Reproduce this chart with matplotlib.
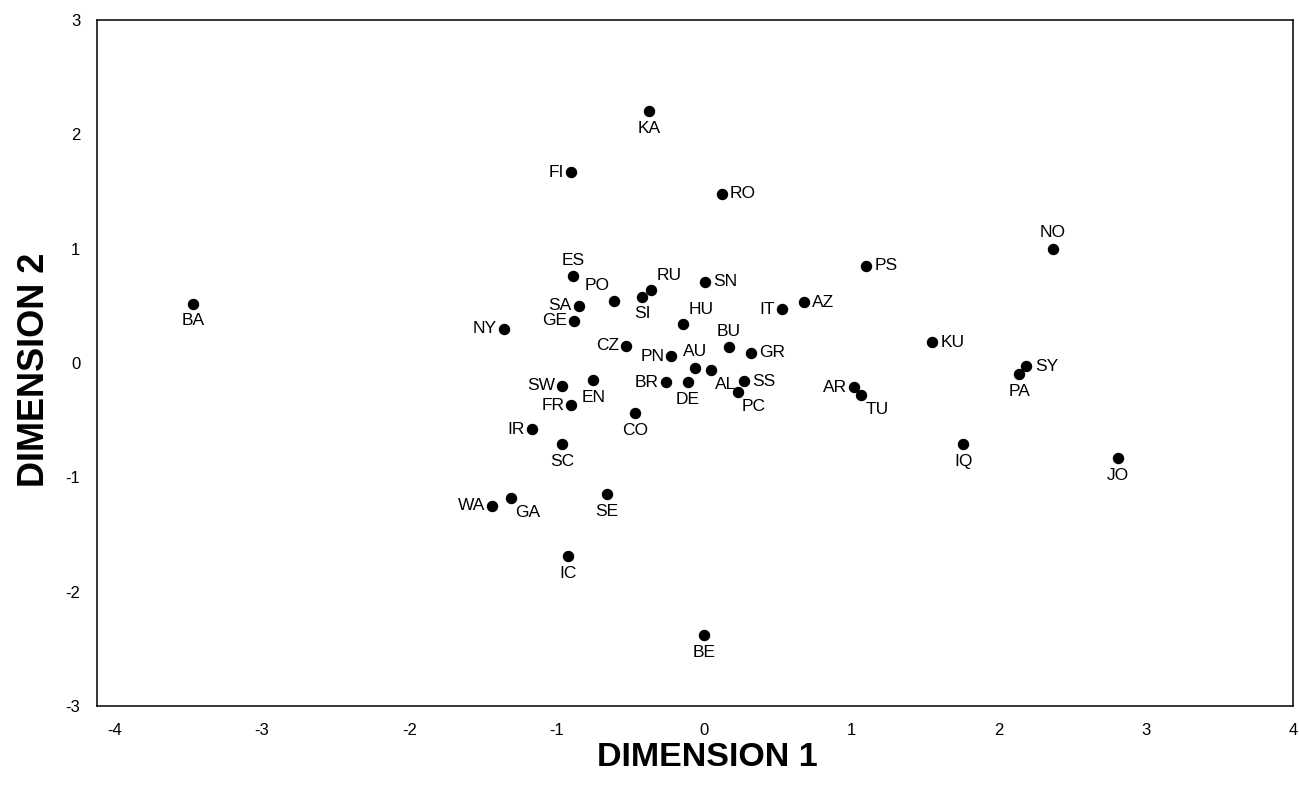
import matplotlib
matplotlib.use('Agg')
import matplotlib.pyplot as plt

plt.rcParams['font.family'] = ['Liberation Sans', 'DejaVu Sans']
plt.rcParams['axes.unicode_minus'] = False

# country codes and their coordinates on the two dimensions
codes = ['KA', 'FI', 'RO', 'NO', 'PS', 'BA', 'ES', 'RU', 'SI', 'PO',
         'SA', 'GE', 'NY', 'SN', 'HU', 'IT', 'AZ', 'CZ', 'PN', 'BU',
         'GR', 'AU', 'AL', 'SW', 'EN', 'BR', 'DE', 'SS', 'PC', 'FR',
         'CO', 'IR', 'SC', 'GA', 'WA', 'SE', 'IC', 'BE', 'KU', 'AR',
         'TU', 'PA', 'SY', 'IQ', 'JO']
dim1 = [-0.37, -0.90, 0.12, 2.37, 1.10, -3.47, -0.89, -0.36, -0.42, -0.61,
        -0.85, -0.88, -1.36, 0.01, -0.14, 0.53, 0.68, -0.53, -0.22, 0.17,
        0.32, -0.06, 0.05, -0.96, -0.75, -0.26, -0.11, 0.27, 0.23, -0.90,
        -0.47, -1.17, -0.96, -1.31, -1.44, -0.66, -0.92, 0.00, 1.55, 1.02,
        1.07, 2.14, 2.19, 1.76, 2.81]
dim2 = [2.20, 1.67, 1.48, 1.00, 0.85, 0.52, 0.76, 0.64, 0.58, 0.54,
        0.50, 0.37, 0.30, 0.71, 0.34, 0.47, 0.53, 0.15, 0.06, 0.14,
        0.09, -0.04, -0.06, -0.20, -0.15, -0.17, -0.17, -0.16, -0.25, -0.37,
        -0.44, -0.58, -0.71, -1.18, -1.25, -1.15, -1.69, -2.38, 0.18, -0.21,
        -0.28, -0.10, -0.03, -0.71, -0.83]

# where each label sits relative to its dot
place = {'KA': 'b', 'FI': 'l', 'RO': 'r', 'NO': 't', 'PS': 'r', 'BA': 'b',
         'ES': 't', 'RU': 'tr', 'SI': 'b', 'PO': 'tl', 'SA': 'l', 'GE': 'l',
         'NY': 'l', 'SN': 'r', 'HU': 'tr', 'IT': 'l', 'AZ': 'r', 'CZ': 'l',
         'PN': 'l', 'BU': 't', 'GR': 'r', 'AU': 't', 'AL': 'br', 'SW': 'l',
         'EN': 'b', 'BR': 'l', 'DE': 'b', 'SS': 'r', 'PC': 'br', 'FR': 'l',
         'CO': 'b', 'IR': 'l', 'SC': 'b', 'GA': 'br', 'WA': 'l', 'SE': 'b',
         'IC': 'b', 'BE': 'b', 'KU': 'r', 'AR': 'l', 'TU': 'br', 'PA': 'b',
         'SY': 'r', 'IQ': 'b', 'JO': 'b'}
offsets = {'r': ((6, 0), 'left', 'center'), 'l': ((-5, 0), 'right', 'center'),
           'b': ((0, -7), 'center', 'top'), 't': ((0, 6), 'center', 'bottom'),
           'tr': ((4, 5), 'left', 'bottom'), 'tl': ((-3, 6), 'right', 'bottom'),
           'br': ((3, -5), 'left', 'top')}

fig = plt.figure(figsize=(12.99, 7.95), dpi=100)
ax = fig.add_axes([0.0747, 0.112, 0.9207, 0.8628])
ax.scatter(dim1, dim2, s=52, color='black', zorder=3)

for c, x, y in zip(codes, dim1, dim2):
    off, ha, va = offsets[place[c]]
    ax.annotate(c, (x, y), xytext=off, textcoords='offset points',
                ha=ha, va=va, fontsize=12.5)

ax.set_xlim(-4.12, 4.0)
ax.set_ylim(-3, 3)
ax.set_xticks([-4, -3, -2, -1, 0, 1, 2, 3, 4])
ax.set_yticks([-3, -2, -1, 0, 1, 2, 3])
ax.tick_params(length=0, labelsize=12, pad=12)
for s in ax.spines.values():
    s.set_linewidth(1.1)

ax.set_xlabel('DIMENSION 1', fontsize=24.5, fontweight='bold')
ax.set_ylabel('DIMENSION 2', fontsize=26, fontweight='bold')
ax.xaxis.set_label_coords(0.51, -0.053)
ax.yaxis.set_label_coords(-0.038, 0.49)

fig.savefig('out.png', dpi=100)
